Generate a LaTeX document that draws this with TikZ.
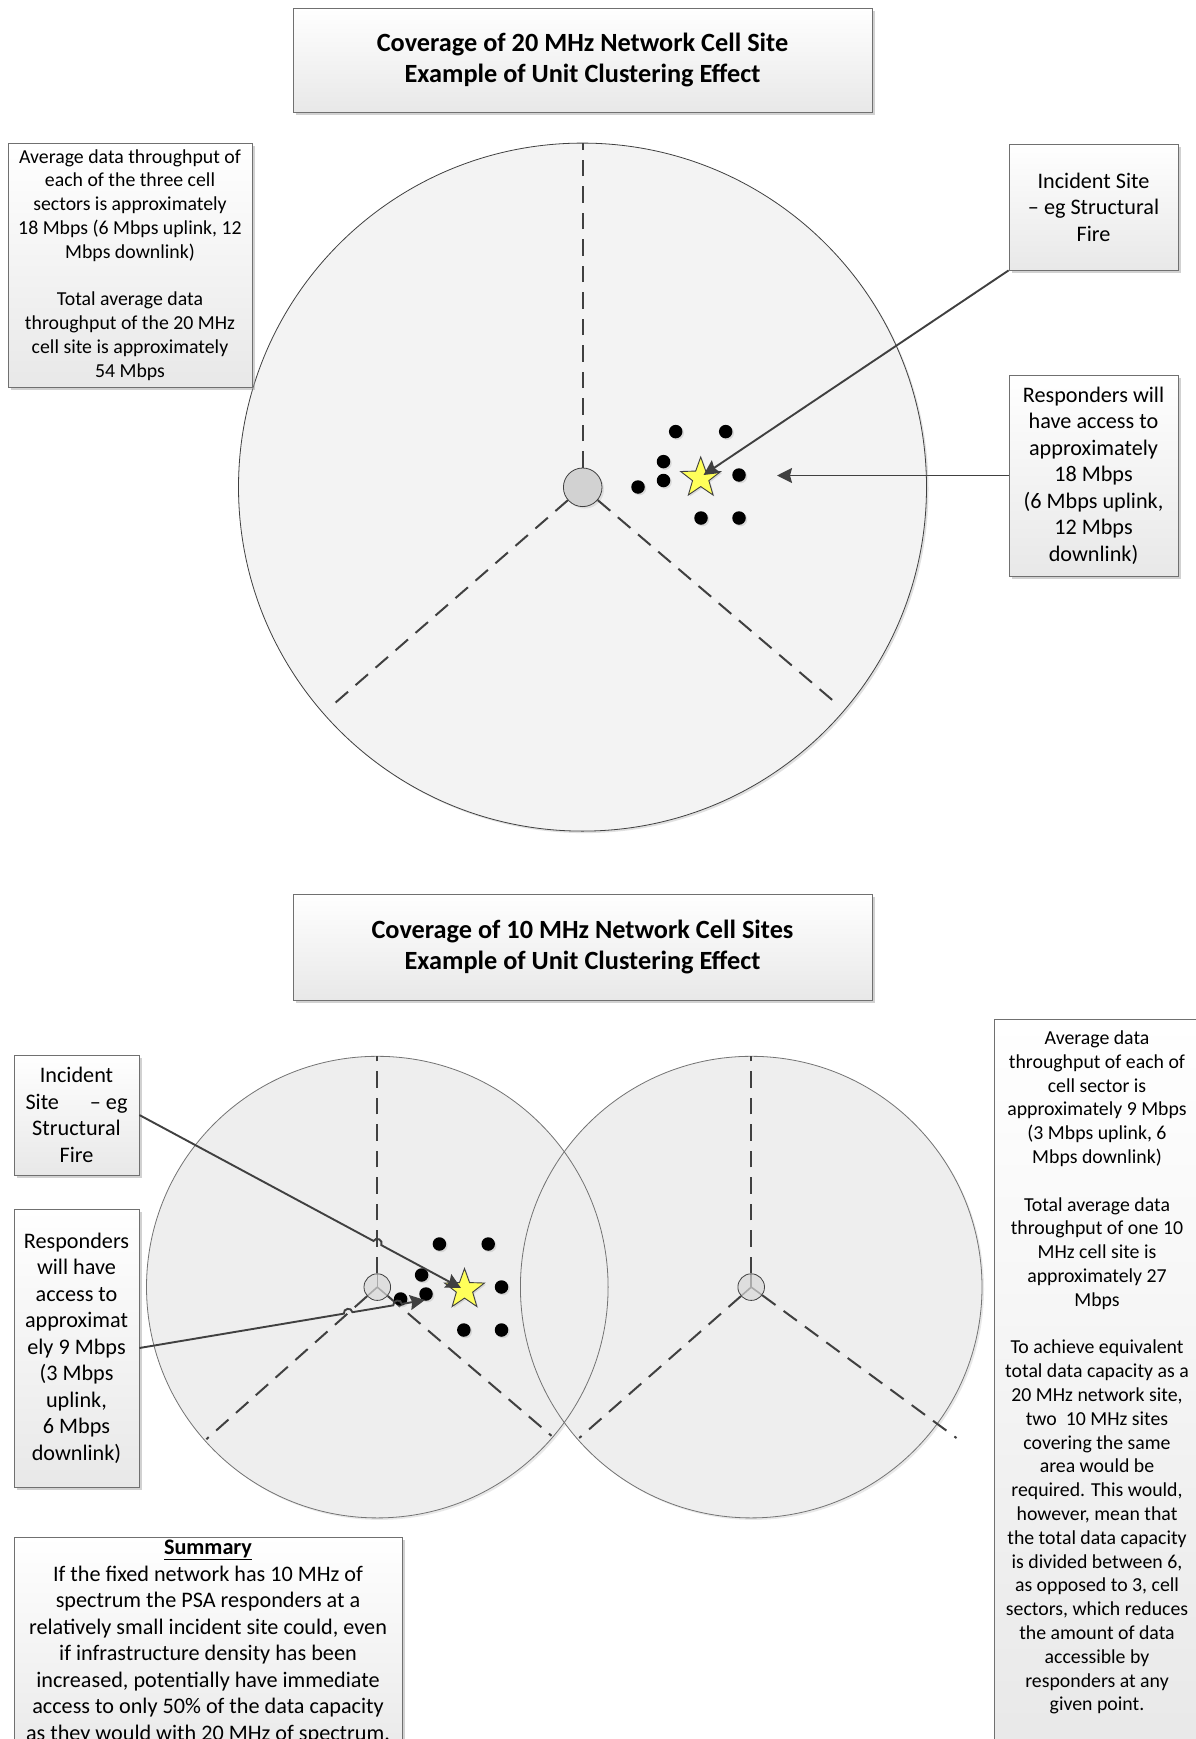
\documentclass[tikz,border=0pt]{standalone}
\usepackage{fontspec}
\setmainfont{Carlito}
\usetikzlibrary{shapes.geometric,shadows,calc,arrows.meta}
\definecolor{linec}{HTML}{404040}
\definecolor{boxborder}{HTML}{707070}
\definecolor{circfill}{HTML}{F3F3F3}
\definecolor{circfillb}{HTML}{EEEEEE}
\definecolor{starfill}{HTML}{FFFF5A}
\definecolor{sitefill}{HTML}{D2D2D2}
\newcommand\mytitlef{\fontsize{26.3}{31}\selectfont\bfseries}
\newcommand\mysmallf{\fontsize{19.8}{23.8}\selectfont}
\newcommand\mybigf{\fontsize{22.2}{26.5}\selectfont}
\tikzset{
  boxn/.style={draw=boxborder, line width=0.8pt, top color=white, bottom color=black!9,
    drop shadow={shadow xshift=3pt, shadow yshift=-3pt, fill=black!40, opacity=0.45},
    inner sep=0pt, align=center},
  txtn/.style={inner sep=0pt, align=center},
  bigcirc/.style={circle, draw=linec, line width=0.8pt, fill=circfill, inner sep=0pt,
    drop shadow={shadow xshift=2pt, shadow yshift=-2pt, fill=black!30, opacity=0.4}},
  bigfillb/.style={circle, fill=circfillb, inner sep=0pt,
    drop shadow={shadow xshift=2pt, shadow yshift=-2pt, fill=black!25, opacity=0.35}},
  circborder/.style={draw=black!55, line width=0.8pt},
  sitenode/.style={circle, draw=linec, line width=0.8pt, fill=sitefill, inner sep=0pt,
    drop shadow={shadow xshift=2pt, shadow yshift=-2pt, fill=black!25, opacity=0.4}},
  sitesmall/.style={circle, draw=linec, line width=0.8pt, fill=sitefill, fill opacity=0.55, inner sep=0pt, minimum size=26.6pt},
  spoke/.style={draw=linec!70, line width=1.6pt},
  dashline/.style={draw=linec, line width=2pt, dash pattern=on 16.5pt off 10pt},
  dotn/.style={circle, fill=black, inner sep=0pt, minimum size=13.5pt,
    drop shadow={shadow xshift=1.5pt, shadow yshift=-1.5pt, fill=black!30, opacity=0.4}},
  starn/.style={star, star points=5, star point ratio=2.45, fill=starfill, draw=linec, line width=0.9pt, inner sep=0pt,
    drop shadow={shadow xshift=1.5pt, shadow yshift=-1.5pt, fill=black!30, opacity=0.4}},
  conn/.style={draw=linec, line width=1.9pt, -{Stealth[length=15pt,width=15pt,inset=2pt]}},
}
\begin{document}
\begin{tikzpicture}[x=1pt,y=-1pt]
\useasboundingbox (0,0) rectangle (1195,1739);
\fill[white] (0,0) rectangle (1195,1739);

% ===== top diagram =====
\node[bigcirc, minimum size=688pt] (cov1) at (582.5,487.1) {};
\node[sitenode, minimum size=38.6pt] (site1) at (582.7,487.3) {};
\coordinate (d1a) at (582.7,143.5);
\coordinate (d1b) at (330.7,706.8);
\coordinate (d1c) at (837.7,704.6);
\draw[dashline] (site1) -- (d1a);
\draw[dashline] (site1) -- (d1b);
\draw[dashline] (site1) -- (d1c);
\foreach \i/\x/\y in {1/675.7/431.6, 2/725.7/431.6, 3/663.5/461.6, 4/663.5/480.5, 5/638/487, 6/739/475, 7/701/518, 8/739/518}
  \node[dotn] (ra\i) at (\x,\y) {};
\node[starn, minimum size=42pt] (star1) at (700.7,478) {};

\node[boxn, font=\mytitlef, minimum width=579pt, minimum height=104pt] (title1) at (582.5,60)
  {Coverage of 20 MHz Network Cell Site\\ Example of Unit Clustering Effect};
\node[boxn, font=\mysmallf, minimum width=244pt, minimum height=244pt] (info1) at (130,265)
  {Average data throughput of\\ each of the three cell\\ sectors is approximately\\ 18 Mbps (6 Mbps uplink, 12\\ Mbps downlink)\\[23.8pt] Total average data\\ throughput of the 20 MHz\\ cell site is approximately\\ 54 Mbps};
\node[boxn, font=\mybigf, minimum width=169pt, minimum height=126pt] (inc1) at (1093.5,207)
  {Incident Site\\ – eg Structural\\ Fire};
\node[boxn, font=\mybigf, minimum width=169pt, minimum height=201pt] (resp1) at (1093.5,475.5)
  {Responders will\\ have access to\\ approximately\\ 18 Mbps\\ (6 Mbps uplink,\\ 12 Mbps\\ downlink)};

\coordinate (tip1) at (703.5,475);
\coordinate (tip1b) at (777,475.5);
\draw[conn] (inc1.south west) -- (tip1);
\draw[conn] (resp1.west) -- (tip1b);

% ===== bottom diagram =====
\node[bigfillb, minimum size=461.6pt] (cov2) at (377.3,1287.1) {};
\node[bigfillb, minimum size=461.6pt] (cov3) at (751.2,1287.1) {};
\draw[circborder] (cov2.center) circle[radius=230.8];
\draw[circborder] (cov3.center) circle[radius=230.8];

\coordinate (c2) at (377.3,1287.1);
\coordinate (c3) at (751.2,1287.1);
\coordinate (e2a) at (377.3,1055.5);
\coordinate (e2b) at (206.4,1439.2);
\coordinate (e2c) at (551.5,1435.8);
\coordinate (e3a) at (751.2,1055.5);
\coordinate (e3b) at (579.2,1438);
\coordinate (e3c) at (956.5,1438);
\foreach \c/\e in {c2/e2a, c2/e2b, c2/e2c, c3/e3a, c3/e3b, c3/e3c}
  \draw[spoke] (\c) -- ($(\c)!13.3pt!(\e)$);
\node[sitesmall] (site2) at (c2) {};
\node[sitesmall] (site3) at (c3) {};
\draw[dashline] (site2) -- (e2a);
\draw[dashline] (site2) -- (e2b);
\draw[dashline] (site2) -- (e2c);
\draw[dashline] (site3) -- (e3a);
\draw[dashline] (site3) -- (e3b);
\draw[dashline] (site3) -- (e3c);

\foreach \i/\x/\y in {1/439.4/1244, 2/488.2/1244, 3/421.6/1275, 4/426/1294, 5/400.6/1299, 6/501.5/1287, 7/463.8/1330, 8/501.5/1330}
  \node[dotn] (rb\i) at (\x,\y) {};
\node[starn, minimum size=42pt] (star2) at (464.5,1289.5) {};

\node[boxn, font=\mytitlef, minimum width=579pt, minimum height=106pt] (title2) at (582.5,947)
  {Coverage of 10 MHz Network Cell Sites\\ Example of Unit Clustering Effect};
\node[boxn, font=\mybigf, minimum width=125pt, minimum height=120pt] (inc2) at (76.5,1115)
  {Incident\\ \makebox[102pt]{Site\hfill– eg}\\ Structural\\ Fire};
\node[boxn, font=\mybigf, minimum width=125pt, minimum height=278pt] (resp2) at (76.5,1348)
  {Responders\\ will have\\ access to\\ approximat\\ ely 9 Mbps\\ (3 Mbps\\ uplink,\\ 6 Mbps\\ downlink)};

\node[boxn, minimum width=206pt, minimum height=740pt] (info2) at (1097,1389.7) {};
\node[txtn, font=\mysmallf, anchor=north] (info2t) at (1097,1030.5)
  {Average data\\ throughput of each of\\ cell sector is\\ approximately 9 Mbps\\ (3 Mbps uplink, 6\\ Mbps downlink)\\[23.8pt]
   Total average data\\ throughput of one 10\\ MHz cell site is\\ approximately 27\\ Mbps\\[23.8pt]
   To achieve equivalent\\ total data capacity as a\\ 20 MHz network site,\\ two\ \ 10 MHz sites\\ covering the same\\ area would be\\ required. This would,\\ however, mean that\\ the total data capacity\\ is divided between 6,\\ as opposed to 3, cell\\ sectors, which reduces\\ the amount of data\\ accessible by\\ responders at any\\ given point.};

\node[boxn, minimum width=388pt, minimum height=230pt] (summ) at (208,1652) {};
\node[txtn, font=\mybigf, anchor=north] (summt) at (208,1540)
  {\underline{\textbf{Summary}}\\ If the fixed network has 10 MHz of\\ spectrum the PSA responders at a\\ relatively small incident site could, even\\ if infrastructure density has been\\ increased, potentially have immediate\\ access to only 50\% of the data capacity\\ as they would with 20 MHz of spectrum.};

\coordinate (tip2) at (461,1288);
\coordinate (tip2b) at (425,1300);
\draw[conn] (inc2.east) -- ($(inc2.east)!0.728!(tip2)$)
  to[bend left=90, looseness=1.6] ($(inc2.east)!0.752!(tip2)$) -- (tip2);
\draw[conn] (resp2.east) -- ($(resp2.east)!0.716!(tip2b)$)
  to[bend left=90, looseness=1.6] ($(resp2.east)!0.746!(tip2b)$)
  -- ($(resp2.east)!0.889!(tip2b)$)
  to[bend left=90, looseness=1.6] ($(resp2.east)!0.919!(tip2b)$) -- (tip2b);
\end{tikzpicture}
\end{document}
